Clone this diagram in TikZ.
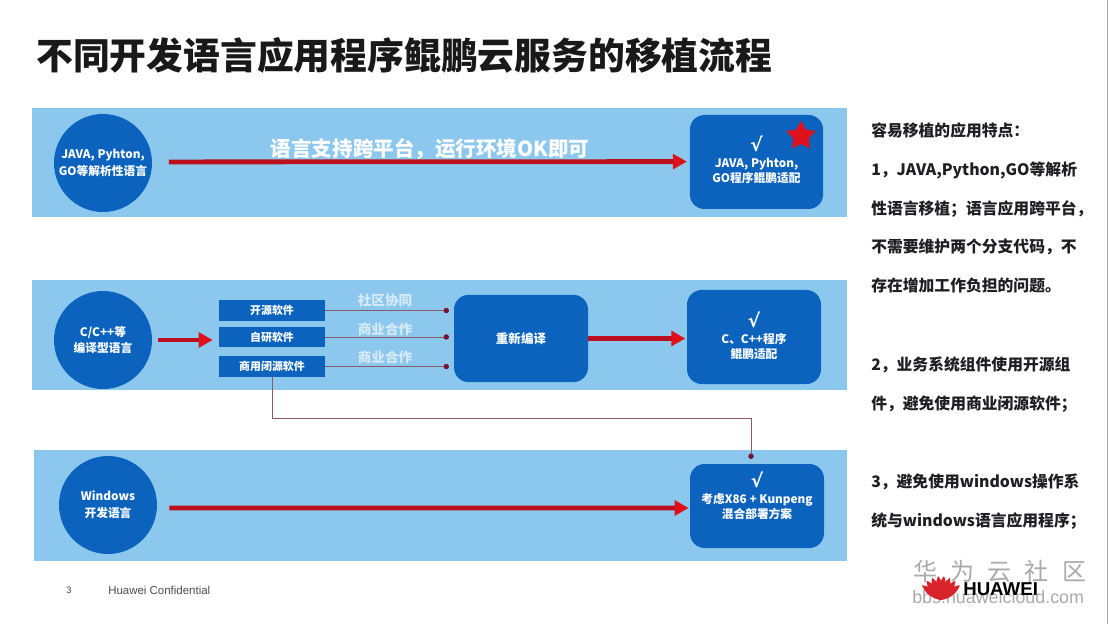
\documentclass[tikz,border=0pt]{standalone}
\usepackage{fontspec}
\setmainfont{Noto Sans CJK SC}
\newfontfamily\latinfont{Liberation Sans}
\newfontfamily\checkfont{DejaVu Sans}
\usetikzlibrary{arrows.meta,shapes.geometric,calc}
\definecolor{panelblue}{HTML}{8CC8EE}
\definecolor{deepblue}{HTML}{0B63BE}
\definecolor{arrowred}{HTML}{BC0F1E}
\definecolor{tipred}{HTML}{DD101C}
\definecolor{linkred}{HTML}{8A5A6A}
\definecolor{dotred}{HTML}{7A1035}
\definecolor{bodyink}{HTML}{1E1E24}
\definecolor{markgray}{HTML}{A9A9AE}
\definecolor{logored}{HTML}{D8232A}
\definecolor{paletext}{HTML}{D6EAF7}
\newcommand{\tick}{{\checkfont\bfseries\fontsize{14pt}{14pt}\selectfont √}}
\tikzset{
  panel/.style={fill=panelblue,draw=none},
  bluecirc/.style={circle,fill=deepblue,minimum size=73.5pt,inner sep=0pt,text=white,align=center,font=\fontsize{8.8pt}{12.5pt}\selectfont\bfseries},
  bluebox/.style={rectangle,rounded corners=11pt,fill=deepblue,inner sep=0pt,text=white,align=center,font=\fontsize{8.8pt}{11.6pt}\selectfont\bfseries},
  swbox/.style={rectangle,fill=deepblue,minimum width=79.5pt,minimum height=15.5pt,inner sep=0pt,text=white,font=\fontsize{8.2pt}{10pt}\selectfont\bfseries},
  thickarrow/.style={draw=arrowred,line width=3.6pt,-{Triangle[length=10.5pt,width=11pt,color=tipred]}},
  thinlink/.style={draw=linkred,line width=.6pt,-{Circle[length=4pt,color=dotred]}},
  palelabel/.style={text=paletext,font=\fontsize{10.2pt}{12pt}\selectfont\bfseries},
  bodytext/.style={anchor=north west,inner sep=0pt,align=left,text=bodyink,font=\fontsize{11.85pt}{29pt}\selectfont\bfseries},
  marktext/.style={text=markgray,inner sep=0pt}
}
\begin{document}
\begin{tikzpicture}[x=.75pt,y=-.75pt]
\useasboundingbox (0,0) rectangle (1108,624);
\fill[white] (0,0) rectangle (1108,624);
\draw[gray!70,line width=.8pt] (1107.5,0) -- (1107.5,624);
\node[anchor=west,inner sep=0pt,text=black!90] (title) at (36,55) {\fontsize{27.6pt}{30pt}\selectfont\bfseries 不同开发语言应用程序鲲鹏云服务的移植流程};

\fill[panel] (32,108) rectangle (847,217);
\fill[panel] (32,280) rectangle (847,389.5);
\fill[panel] (34,450) rectangle (847,561);

\node[bluecirc] (c1) at (103,163) {JAVA, Pyhton,\\GO等解析性语言};
\node[bluecirc] (c2) at (103,340) {C/C++等\\编译型语言};
\node[bluecirc] (c3) at (108,505) {Windows\\开发语言};

\node[bluebox,minimum width=100pt,minimum height=70.5pt] (b1) at (756.5,162) {\tick\\JAVA, Pyhton,\\GO程序鲲鹏适配\\[-7.5pt]\mbox{}};
\node[star,star points=5,star point ratio=1.9,fill=tipred,draw=none,minimum size=23pt,inner sep=0pt] (st) at (801,136) {};
\node[bluebox,minimum width=100.5pt,minimum height=65.5pt,font=\fontsize{9.4pt}{12pt}\selectfont\bfseries] (rc) at (521,338.5) {重新编译};
\node[bluebox,minimum width=100.5pt,minimum height=70.5pt] (b2) at (754,337) {\tick\\C、C++程序\\鲲鹏适配\\[-9pt]\mbox{}};
\node[bluebox,minimum width=100.5pt,minimum height=63pt] (b3) at (757,506) {\tick\\考虑X86 + Kunpeng\\混合部署方案\\[4pt]\mbox{}};

\node[swbox] (s1) at (272,310.5) {开源软件};
\node[swbox] (s2) at (272,337) {自研软件};
\node[swbox] (s3) at (272,366.5) {商用闭源软件};

\draw[thickarrow,shorten <=12.5pt,shorten >=2pt] ([yshift=.8pt]c1.east) -- ([yshift=.3pt]b1.west);
\draw[thickarrow,shorten <=4.5pt,shorten >=4.5pt] (c2.east) -- (c2.east -| s2.west);
\draw[thickarrow,shorten >=1pt] (rc.east) -- (rc.east -| b2.west);
\draw[thickarrow,shorten <=9pt,shorten >=.8pt] ([yshift=-2.2pt]c3.east) -- ([yshift=-1.5pt]b3.west);

\draw[thinlink,shorten >=3.6pt] (s1.east) -- (s1.east -| rc.west);
\draw[thinlink,shorten >=3.6pt] (s2.east) -- (s2.east -| rc.west);
\draw[thinlink,shorten >=3.6pt] (s3.east) -- (s3.east -| rc.west);
\coordinate (elbow) at (751,418);
\draw[thinlink,shorten >=3.6pt] (s3.south) |- (elbow) -- (elbow |- b3.north);

\node[palelabel] (l1) at (385,300.5) {社区协同};
\node[palelabel] (l2) at (385,329.5) {商业合作};
\node[palelabel] (l3) at (385,357.5) {商业合作};
\node[text=white,font=\fontsize{15.4pt}{18pt}\selectfont\bfseries,inner sep=0pt] (lang) at (430,149) {语言支持跨平台，运行环境OK即可};

\node[bodytext] (p1) at (871,123) {容易移植的应用特点：\\1，JAVA,Python,GO等解析\\性语言移植；语言应用跨平台，\\不需要维护两个分支代码，不\\存在增加工作负担的问题。};
\node[bodytext] (p2) at (871,357) {2，业务系统组件使用开源组\\件，避免使用商业闭源软件；};
\node[bodytext] (p3) at (871,474) {3，避免使用windows操作系\\统与windows语言应用程序；};

\node[inner sep=0pt,text=black!75] (pg) at (69,590) {\latinfont\fontsize{7pt}{8pt}\selectfont 3};
\node[anchor=west,inner sep=0pt,text=black!70] (conf) at (108,590) {\latinfont\fontsize{8.6pt}{10pt}\selectfont Huawei Confidential};

\node[marktext,anchor=west] (wm1) at (913,571) {\fontsize{18pt}{20pt}\selectfont\addfontfeature{LetterSpace=55}华为云社区};
\node[marktext,anchor=west] (wm2) at (912,597) {\latinfont\fontsize{13.4pt}{15pt}\selectfont bbs.huaweicloud.com};
\foreach \a in {-52,-37,-22,-7,7,22,37,52}{
  \fill[logored,rotate around={\a:(941,600)}] (941,600) .. controls (936,592) and (937,582) .. (941,576) .. controls (945,582) and (946,592) .. (941,600) -- cycle;
}
\node[anchor=west,inner sep=0pt,text=black] (hw) at (963,589) {\latinfont\fontsize{14pt}{16pt}\selectfont\bfseries HUAWEI};
\end{tikzpicture}
\end{document}
